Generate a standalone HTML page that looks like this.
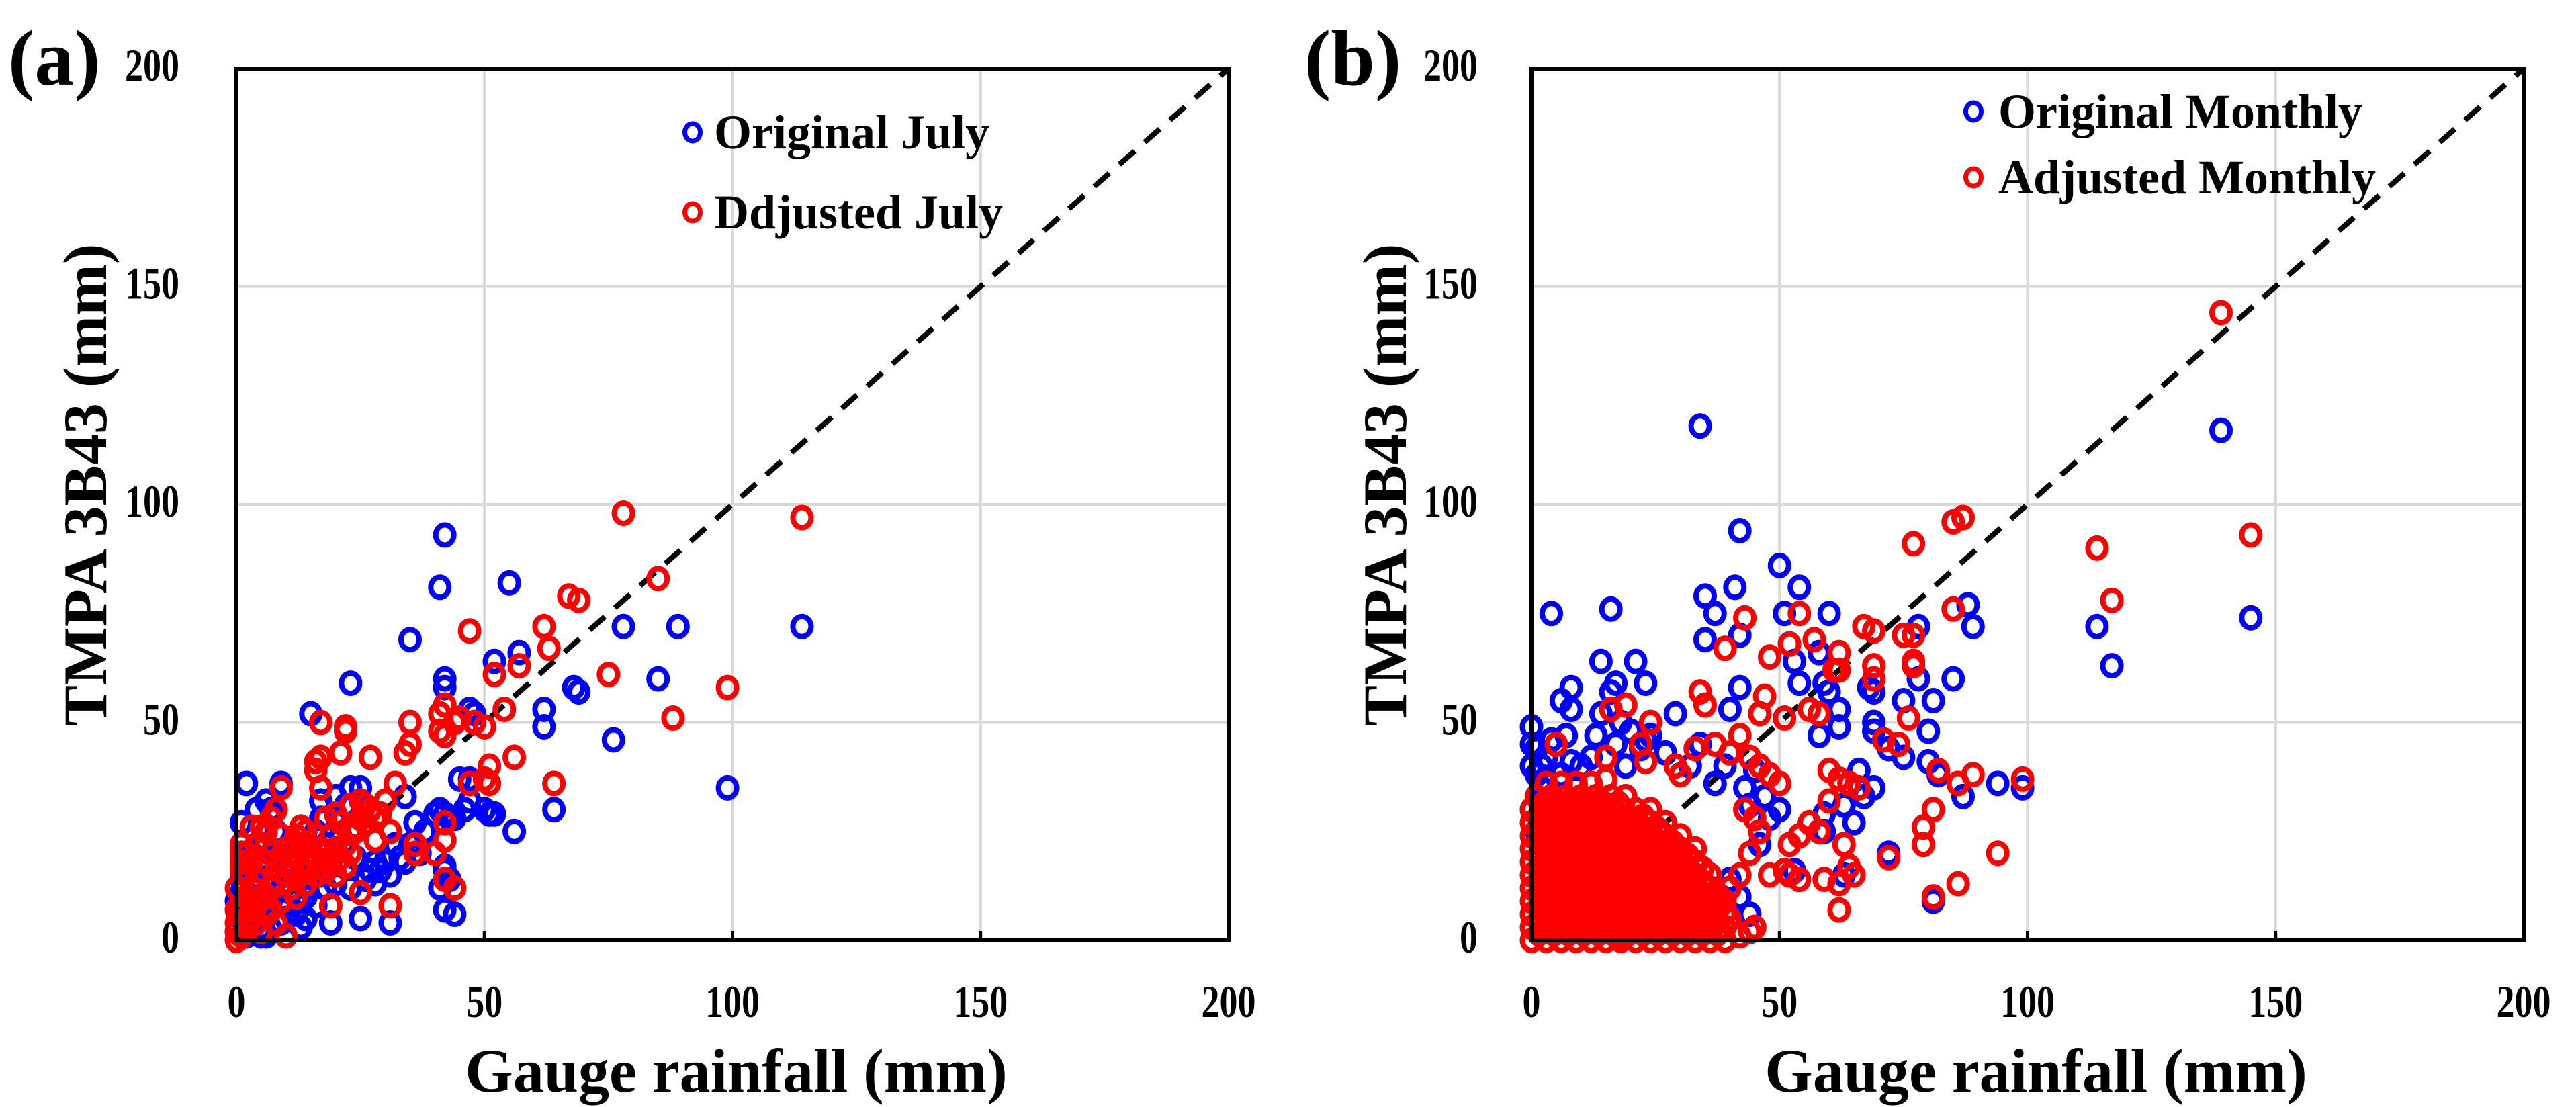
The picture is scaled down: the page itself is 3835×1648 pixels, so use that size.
<!DOCTYPE html>
<html><head><meta charset="utf-8"><style>
html,body{margin:0;padding:0;background:#fff;}
svg{display:block;font-family:"Liberation Serif",serif;font-weight:bold;}
</style></head><body>
<svg id="chart" width="3835" height="1648" viewBox="0 0 3835 1648" xmlns="http://www.w3.org/2000/svg">
<rect x="0" y="0" width="3835" height="1648" fill="#fff"/>
</svg>
<script>
const tickValues = [0, 50, 100, 150, 200];
const tickLabels = ["0", "50", "100", "150", "200"];
const julyOriginal = [[42,93],[41,81],[55,82],[35,69],[23,59],[15,52],[57,66],[52,64],[42,60],[42,58],[47,53],[48,52],[62,53],[62,49],[78,72],[89,72],[114,72],[85,60],[68,58],[69,57],[76,46],[99,35],[64,30],[56,25],[50,30],[51,29],[52,29],[47,37],[44,28],[42,29],[2,36],[9,36],[6,32],[7,30],[1,27],[23,35],[25,35],[34,33],[36,27],[35,22],[34,18],[29,16],[31,15],[28,13],[25,5],[31,4],[19,4],[14,5],[42,7],[44,6],[41,12],[42,16],[42,17],[43,14],[20,20],[17,28],[17,32],[22,31],
[0,2],[1,5],[2,8],[3,12],[1,14],[4,10],[5,3],[6,6],[7,15],[8,20],[9,12],[10,8],[11,18],[12,22],[13,14],[14,10],[15,20],[16,25],[17,15],[18,12],[19,18],[20,13],[21,24],[22,17],[24,19],[26,14],[28,18],[3,20],[2,1],[5,1],[6,1],[4,30],[8,25],[10,5],[12,6],[16,8],[18,22],[20,33],[0,9],[1,11],[3,16],[5,22],[7,9],[9,4],[11,11],[13,3],[15,15],[23,12],[27,16],[30,18],[32,22],[33,19],[37,20],[38,25],[40,29],[41,30],[43,28],[45,37],[46,30],[47,32]];
const julyAdjusted = [[78,98],[114,97],[85,83],[67,79],[69,78],[62,72],[63,67],[47,71],[57,63],[52,61],[75,61],[99,58],[88,51],[54,53],[45,51],[44,50],[48,50],[50,49],[41,52],[42,54],[41,48],[42,47],[35,50],[17,50],[22,49],[22,48],[21,43],[27,42],[35,45],[34,43],[16,41],[16,39],[17,42],[51,40],[50,37],[47,36],[51,36],[56,42],[64,36],[32,36],[17,35],[9,35],[5,26],[3,26],[30,32],[26,31],[29,29],[31,25],[24,25],[24,26],[28,23],[36,22],[36,20],[40,20],[42,23],[42,27],[25,11],[31,8],[19,8],[42,14],[44,12],[10,1],[1,20],[1,18],[1,16],[2,15],
[0,0],[0,2],[0,4],[1,6],[1,8],[2,3],[2,10],[3,5],[3,12],[4,8],[4,14],[5,2],[5,10],[5,16],[6,6],[6,18],[7,12],[7,20],[8,4],[8,14],[8,17],[9,9],[9,19],[10,15],[10,21],[11,12],[11,17],[12,19],[12,14],[13,16],[13,22],[14,18],[14,13],[15,20],[15,17],[16,15],[16,19],[17,17],[18,16],[18,20],[19,18],[20,15],[20,21],[21,19],[22,17],[22,22],[23,25],[23,20],[24,26],[25,28],[26,27],[27,30],[28,28],[1,1],[2,5],[0,7],[3,9],[4,4],[6,10],[7,7],[1,22],[2,20],[0,12],[3,18],[4,22],[6,22],[12,10],[14,22],[17,21],[19,24],[21,27],[25,32],[23,31],[20,29],[18,28],[14,25],[12,24],[6,25],[7,28],[8,30],[2,16],[9,24],[11,20],[13,26]];
const monthlyOriginal = [[34,118],[139,117],[42,94],[50,86],[41,81],[54,81],[35,79],[37,75],[51,75],[60,75],[4,75],[16,76],[145,74],[88,77],[78,72],[89,72],[114,72],[35,69],[42,70],[58,66],[53,64],[14,64],[21,64],[117,63],[85,60],[78,60],[54,59],[23,59],[17,59],[8,58],[42,58],[59,59],[60,57],[69,57],[68,58],[75,55],[81,55],[16,57],[6,55],[8,53],[40,53],[29,52],[14,52],[62,53],[0,49],[0,45],[0,40],[1,38],[2,35],[3,42],[7,47],[13,47],[17,45],[23,46],[58,47],[62,49],[69,50],[69,48],[80,48],[75,42],[72,44],[80,41],[82,38],[87,33],[94,36],[99,35],[66,39],[69,35],[67,33],[65,27],[63,31],[59,29],[59,25],[72,20],[81,9],[63,15],[53,16],[54,14],[8,41],[10,40],[19,40],[22,44],[34,45],[45,39],[47,33],[50,30],[48,28],[5,30],[3,28],[1,25],[2,32],[6,38],[9,35],[4,46],[20,48],[27,43],[32,40],[37,36],[44,31],[46,22],[44,6],[42,10],[40,14],[25,10],[15,5],[30,20],[10,22],[0,30],[1,44],[2,40],[12,42],[18,50],[24,47],[39,40],[43,35]];
const monthlyAdjusted = [[139,144],[87,97],[85,96],[77,91],[114,90],[145,93],[117,78],[43,74],[54,75],[85,76],[67,72],[69,71],[75,70],[77,70],[57,69],[39,67],[62,66],[52,68],[48,65],[77,64],[77,63],[69,63],[69,60],[61,62],[62,62],[34,57],[47,56],[35,54],[56,53],[58,52],[76,51],[19,54],[16,53],[42,47],[46,52],[51,51],[71,46],[74,45],[5,45],[82,39],[60,39],[62,37],[64,36],[66,35],[89,38],[86,36],[99,37],[60,32],[56,27],[58,25],[63,22],[54,24],[52,22],[81,30],[79,26],[79,22],[72,19],[94,20],[64,17],[65,15],[48,15],[51,16],[52,15],[54,14],[59,14],[62,13],[86,13],[81,10],[62,7],[45,3],[44,2],[40,5],[38,8],[34,6],[30,5],[28,2],[32,3],[42,1],[22,2],[18,1],[25,4],[36,2],[29,40],[23,41],[15,42],[22,45],[24,50],[30,38],[33,44],[37,45],[40,43],[44,42],[46,40],[48,38],[50,36],[43,30],[45,28],[46,25],[44,20],[42,15],[40,12],[38,10],[35,12],
[0,0],[3,0],[6,0],[9,0],[12,0],[15,0],[18,0],[21,0],[24,0],[27,0],[30,0],[33,0],[36,0],[39,0],
[0,3],[3,3],[6,3],[9,3],[12,3],[15,3],[18,3],[21,3],[24,3],[27,3],[30,3],[33,3],[36,3],[39,3],
[0,6],[3,6],[6,6],[9,6],[12,6],[15,6],[18,6],[21,6],[24,6],[27,6],[30,6],[33,6],[36,6],[39,6],
[0,9],[3,9],[6,9],[9,9],[12,9],[15,9],[18,9],[21,9],[24,9],[27,9],[30,9],[33,9],[36,9],[39,9],
[0,12],[3,12],[6,12],[9,12],[12,12],[15,12],[18,12],[21,12],[24,12],[27,12],[30,12],[33,12],[36,12],
[0,15],[3,15],[6,15],[9,15],[12,15],[15,15],[18,15],[21,15],[24,15],[27,15],[30,15],[33,15],[36,15],
[0,18],[3,18],[6,18],[9,18],[12,18],[15,18],[18,18],[21,18],[24,18],[27,18],[30,18],[33,18],
[0,21],[3,21],[6,21],[9,21],[12,21],[15,21],[18,21],[21,21],[24,21],[27,21],[30,21],[33,21],
[0,24],[3,24],[6,24],[9,24],[12,24],[15,24],[18,24],[21,24],[24,24],[27,24],[30,24],
[0,27],[3,27],[6,27],[9,27],[12,27],[15,27],[18,27],[21,27],[24,27],[27,27],
[0,30],[3,30],[6,30],[9,30],[12,30],[15,30],[18,30],[21,30],[24,30],
[1,33],[4,33],[7,33],[10,33],[13,33],[16,33],[19,33],
[3,36],[6,36],[9,36],[12,36],[15,37],
[1.5,1.5],[4.5,1.5],[7.5,1.5],[10.5,1.5],[13.5,1.5],[16.5,1.5],[19.5,1.5],[22.5,1.5],[25.5,1.5],[28.5,1.5],[31.5,1.5],[34.5,1.5],[37.5,1.5],
[1.5,4.5],[4.5,4.5],[7.5,4.5],[10.5,4.5],[13.5,4.5],[16.5,4.5],[19.5,4.5],[22.5,4.5],[25.5,4.5],[28.5,4.5],[31.5,4.5],[34.5,4.5],[37.5,4.5],
[1.5,7.5],[4.5,7.5],[7.5,7.5],[10.5,7.5],[13.5,7.5],[16.5,7.5],[19.5,7.5],[22.5,7.5],[25.5,7.5],[28.5,7.5],[31.5,7.5],[34.5,7.5],[37.5,7.5],
[1.5,10.5],[4.5,10.5],[7.5,10.5],[10.5,10.5],[13.5,10.5],[16.5,10.5],[19.5,10.5],[22.5,10.5],[25.5,10.5],[28.5,10.5],[31.5,10.5],[34.5,10.5],[37.5,10.5],
[1.5,13.5],[4.5,13.5],[7.5,13.5],[10.5,13.5],[13.5,13.5],[16.5,13.5],[19.5,13.5],[22.5,13.5],[25.5,13.5],[28.5,13.5],[31.5,13.5],[34.5,13.5],
[1.5,16.5],[4.5,16.5],[7.5,16.5],[10.5,16.5],[13.5,16.5],[16.5,16.5],[19.5,16.5],[22.5,16.5],[25.5,16.5],[28.5,16.5],[31.5,16.5],[34.5,16.5],
[1.5,19.5],[4.5,19.5],[7.5,19.5],[10.5,19.5],[13.5,19.5],[16.5,19.5],[19.5,19.5],[22.5,19.5],[25.5,19.5],[28.5,19.5],[31.5,19.5],
[1.5,22.5],[4.5,22.5],[7.5,22.5],[10.5,22.5],[13.5,22.5],[16.5,22.5],[19.5,22.5],[22.5,22.5],[25.5,22.5],[28.5,22.5],
[1.5,25.5],[4.5,25.5],[7.5,25.5],[10.5,25.5],[13.5,25.5],[16.5,25.5],[19.5,25.5],[22.5,25.5],[25.5,25.5],
[1.5,28.5],[4.5,28.5],[7.5,28.5],[10.5,28.5],[13.5,28.5],[16.5,28.5],[19.5,28.5],[22.5,28.5],
[2.5,31.5],[5.5,31.5],[8.5,31.5],[11.5,31.5],[14.5,31.5],[17.5,31.5]];

const NS = "http://www.w3.org/2000/svg";
const svg = document.getElementById("chart");
function mk(tag, attrs, parent) {
  const e = document.createElementNS(NS, tag);
  for (const k in attrs) e.setAttribute(k, attrs[k]);
  (parent || svg).appendChild(e);
  return e;
}
const panels = [
  {id:"a", x0:352, x1:1829, y0:1400, y1:102, label:"(a)", labelX:12, yLabX:267, yTitleX:158, xTitleCx:1096,
   leg:[{t:"Original July",c:"#0000ff"},{t:"Ddjusted July",c:"#ff0000"}], legX:1031, legY:[197,316], legTextX:1063,
   blue:julyOriginal, red:julyAdjusted},
  {id:"b", x0:2280, x1:3757, y0:1400, y1:102, label:"(b)", labelX:1942, yLabX:2200, yTitleX:2093, xTitleCx:3031,
   leg:[{t:"Original Monthly",c:"#0000ff"},{t:"Adjusted Monthly",c:"#ff0000"}], legX:2938, legY:[166,264], legTextX:2975,
   blue:monthlyOriginal, red:monthlyAdjusted}
];
panels.forEach(p => {
  const sx = v => p.x0 + (p.x1 - p.x0) * v / 200;
  const sy = v => p.y0 + (p.y1 - p.y0) * v / 200;
  const g = mk("g", {});
  
  
  tickValues.forEach((v, i) => {
    if (v > 0 && v < 200) {
      const gx = mk("line", {x1:sx(v), x2:sx(v), y1:p.y0, y2:p.y1, stroke:"#d9d9d9", "stroke-width":4}, g);
      
      
      const gy = mk("line", {x1:p.x0, x2:p.x1, y1:sy(v), y2:sy(v), stroke:"#d9d9d9", "stroke-width":4}, g);
      
      
      const tk = mk("line", {x1:sx(v), x2:sx(v), y1:p.y0, y2:p.y0 - 14, stroke:"#000", "stroke-width":5}, g);
      
      
    }
    const n = tickLabels[i].length;
    const xl = mk("text", {x:sx(v), y:1514, "text-anchor":"middle", "font-size":68, textLength:27 * n, lengthAdjust:"spacingAndGlyphs"}, g);
    xl.textContent = tickLabels[i];
    
    
    const yl = mk("text", {x:p.yLabX, y:sy(v) + 18, "text-anchor":"end", "font-size":68, textLength:27 * n, lengthAdjust:"spacingAndGlyphs"}, g);
    yl.textContent = tickLabels[i];
    
    
  });
  const dl = mk("line", {x1:sx(0), y1:sy(0), x2:sx(200), y2:sy(200), stroke:"#000", "stroke-width":8, "stroke-dasharray":"30 20"}, g);
  
  
  [[p.blue,"#0000ff","original-point"],[p.red,"#ff0000","adjusted-point"]].forEach(s => {
    s[0].forEach(d => {
      const c = mk("ellipse", {cx:sx(d[0]), cy:sy(d[1]), rx:13.5, ry:15, fill:"none", stroke:s[1], "stroke-width":8}, g);
      
      
    });
  });
  const fr = mk("rect", {x:p.x0, y:p.y1, width:p.x1 - p.x0, height:p.y0 - p.y1, fill:"none", stroke:"#000", "stroke-width":6}, g);
  
  
  p.leg.forEach((L, i) => {
    const m = mk("ellipse", {cx:p.legX, cy:p.legY[i], rx:11.5, ry:13, fill:"none", stroke:L.c, "stroke-width":7}, g);
    
    
    const t = mk("text", {x:p.legTextX, y:p.legY[i] + 24, "font-size":72}, g);
    t.textContent = L.t;
    
    
  });
  const pl = mk("text", {x:p.labelX, y:126, "font-size":118}, g);
  pl.textContent = p.label;
  
  
  const xt = mk("text", {x:p.xTitleCx, y:1625, "text-anchor":"middle", "font-size":92}, g);
  xt.textContent = "Gauge rainfall (mm)";
  
  
  const yt = mk("text", {x:0, y:0, "text-anchor":"middle", "font-size":92, transform:"translate(" + p.yTitleX + ",722) rotate(-90)"}, g);
  yt.textContent = "TMPA 3B43 (mm)";
  
  
});
</script>
</body></html>
